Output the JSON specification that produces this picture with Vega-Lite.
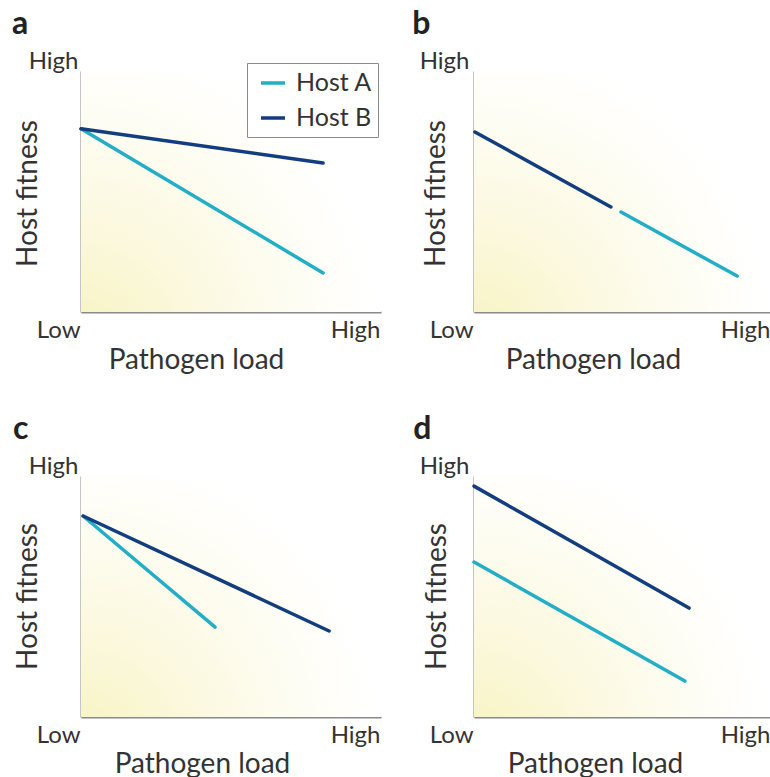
{
  "$schema": "https://vega.github.io/schema/vega-lite/v6.json",
  "padding": {"left": 11, "top": 8, "right": 0, "bottom": 0},
  "background": "white",
  "datasets": {
    "bg": [{"x0": 0, "x1": 1, "y0": 0, "y1": 1}],
    "lines": [
      {"panel": "a", "host": "Host A", "load": 0, "fitness": 0.76},
      {"panel": "a", "host": "Host A", "load": 0.807, "fitness": 0.162},
      {"panel": "a", "host": "Host B", "load": 0, "fitness": 0.76},
      {"panel": "a", "host": "Host B", "load": 0.807, "fitness": 0.618},
      {"panel": "b", "host": "Host B", "load": 0.003, "fitness": 0.747},
      {"panel": "b", "host": "Host B", "load": 0.461, "fitness": 0.436},
      {"panel": "b", "host": "Host A", "load": 0.495, "fitness": 0.415},
      {"panel": "b", "host": "Host A", "load": 0.886, "fitness": 0.149},
      {"panel": "c", "host": "Host A", "load": 0.007, "fitness": 0.834},
      {"panel": "c", "host": "Host A", "load": 0.447, "fitness": 0.373},
      {"panel": "c", "host": "Host B", "load": 0.007, "fitness": 0.834},
      {"panel": "c", "host": "Host B", "load": 0.827, "fitness": 0.357},
      {"panel": "d", "host": "Host B", "load": 0, "fitness": 0.958},
      {"panel": "d", "host": "Host B", "load": 0.724, "fitness": 0.452},
      {"panel": "d", "host": "Host A", "load": 0, "fitness": 0.643},
      {"panel": "d", "host": "Host A", "load": 0.71, "fitness": 0.149}
    ]
  },
  "config": {
    "font": "Lato",
    "view": {"stroke": null},
    "axis": {
      "grid": false,
      "ticks": false,
      "tickSize": 0,
      "domainColor": "#8a8a8a",
      "domainWidth": 2,
      "labelFont": "Lato",
      "labelFontSize": 24,
      "labelColor": "#333333",
      "labelFlush": false,
      "labelOverlap": false,
      "labelBound": false,
      "titleFont": "Lato",
      "titleFontSize": 28,
      "titleFontWeight": "normal",
      "titleColor": "#333333"
    },
    "title": {"font": "Lato", "fontSize": 32, "fontWeight": "bold", "color": "#222222", "anchor": "start", "offset": 8}
  },
  "resolve": {"scale": {"color": "independent"}, "legend": {"color": "independent"}},
  "columns": 2,
  "bounds": "flush",
  "spacing": {"column": 93, "row": 164},
  "concat": [
    {
      "title": {"text": "a", "dx": -2},
      "width": 300,
      "height": 241,
      "layer": [
        {
          "data": {"name": "bg"},
          "mark": {"type": "rect", "color": {"gradient": "radial", "x1": 0, "y1": 1, "r1": 0, "x2": 0, "y2": 1, "r2": 1.0, "stops": [{"offset": 0, "color": "#f7f3c0"}, {"offset": 0.35, "color": "#fbf8dc"}, {"offset": 0.75, "color": "#fefdf4"}, {"offset": 1, "color": "#ffffff"}]}},
          "encoding": {
            "x": {"field": "x0", "type": "quantitative", "scale": {"domain": [0, 1]}, "axis": {"values": [0, 1], "labelExpr": "datum.value == 0 ? 'Low' : 'High'", "labelAlign": "right", "labelBaseline": "alphabetic", "labelPadding": 25, "labelOffset": -1, "title": "Pathogen load", "titleX": 115, "titleY": 56, "titleBaseline": "alphabetic", "titleAlign": "center"}},
            "x2": {"field": "x1"},
            "y": {"field": "y0", "type": "quantitative", "scale": {"domain": [0, 1]}, "axis": {"values": [1], "labelExpr": "'High'", "labelAlign": "right", "labelBaseline": "alphabetic", "labelPadding": 3, "labelOffset": -3, "title": "Host fitness", "titleX": -45, "titleY": 122, "titleBaseline": "alphabetic", "titleAlign": "center", "titleAngle": -90}},
            "y2": {"field": "y1"}
          }
        },
        {
          "data": {"name": "lines"},
          "transform": [{"filter": "datum.panel == 'a'"}],
          "mark": {"type": "line", "strokeWidth": 3.5, "strokeCap": "round"},
          "encoding": {
            "x": {"field": "load", "type": "quantitative"},
            "y": {"field": "fitness", "type": "quantitative"},
            "detail": {"field": "host"},
            "color": {"field": "host", "type": "nominal", "scale": {"domain": ["Host A", "Host B"], "range": ["#22aec6", "#123e7f"]},
              "legend": {"title": null, "orient": "none", "legendX": 166, "legendY": -8, "symbolType": "stroke", "symbolSize": 576, "symbolStrokeWidth": 3.5, "symbolOffset": 6, "labelFontSize": 25, "labelFont": "Lato", "labelColor": "#333333", "labelOffset": 9, "rowPadding": 8, "padding": 6, "strokeColor": "#8a8a8a", "fillColor": "#ffffff"}}
          }
        }
      ]
    },
    {
      "title": {"text": "b", "dx": -7},
      "width": 297,
      "height": 241,
      "layer": [
        {
          "data": {"name": "bg"},
          "mark": {"type": "rect", "color": {"gradient": "radial", "x1": 0, "y1": 1, "r1": 0, "x2": 0, "y2": 1, "r2": 1.0, "stops": [{"offset": 0, "color": "#f7f3c0"}, {"offset": 0.35, "color": "#fbf8dc"}, {"offset": 0.75, "color": "#fefdf4"}, {"offset": 1, "color": "#ffffff"}]}},
          "encoding": {
            "x": {"field": "x0", "type": "quantitative", "scale": {"domain": [0, 1]}, "axis": {"values": [0, 1], "labelExpr": "datum.value == 0 ? 'Low' : 'High'", "labelAlign": "right", "labelBaseline": "alphabetic", "labelPadding": 25, "labelOffset": -1, "title": "Pathogen load", "titleX": 119, "titleY": 56, "titleBaseline": "alphabetic", "titleAlign": "center"}},
            "x2": {"field": "x1"},
            "y": {"field": "y0", "type": "quantitative", "scale": {"domain": [0, 1]}, "axis": {"values": [1], "labelExpr": "'High'", "labelAlign": "right", "labelBaseline": "alphabetic", "labelPadding": 5, "labelOffset": -3, "title": "Host fitness", "titleX": -30, "titleY": 122, "titleBaseline": "alphabetic", "titleAlign": "center", "titleAngle": -90}},
            "y2": {"field": "y1"}
          }
        },
        {
          "data": {"name": "lines"},
          "transform": [{"filter": "datum.panel == 'b'"}],
          "mark": {"type": "line", "strokeWidth": 3.5, "strokeCap": "round"},
          "encoding": {
            "x": {"field": "load", "type": "quantitative"},
            "y": {"field": "fitness", "type": "quantitative"},
            "detail": {"field": "host"},
            "color": {"field": "host", "type": "nominal", "scale": {"domain": ["Host A", "Host B"], "range": ["#22aec6", "#123e7f"]}, "legend": null}
          }
        }
      ]
    },
    {
      "title": {"text": "c", "dx": -1},
      "width": 300,
      "height": 241,
      "layer": [
        {
          "data": {"name": "bg"},
          "mark": {"type": "rect", "color": {"gradient": "radial", "x1": 0, "y1": 1, "r1": 0, "x2": 0, "y2": 1, "r2": 1.0, "stops": [{"offset": 0, "color": "#f7f3c0"}, {"offset": 0.35, "color": "#fbf8dc"}, {"offset": 0.75, "color": "#fefdf4"}, {"offset": 1, "color": "#ffffff"}]}},
          "encoding": {
            "x": {"field": "x0", "type": "quantitative", "scale": {"domain": [0, 1]}, "axis": {"values": [0, 1], "labelExpr": "datum.value == 0 ? 'Low' : 'High'", "labelAlign": "right", "labelBaseline": "alphabetic", "labelPadding": 25, "labelOffset": -1, "title": "Pathogen load", "titleX": 121, "titleY": 55, "titleBaseline": "alphabetic", "titleAlign": "center"}},
            "x2": {"field": "x1"},
            "y": {"field": "y0", "type": "quantitative", "scale": {"domain": [0, 1]}, "axis": {"values": [1], "labelExpr": "'High'", "labelAlign": "right", "labelBaseline": "alphabetic", "labelPadding": 3, "labelOffset": -3, "title": "Host fitness", "titleX": -45, "titleY": 120, "titleBaseline": "alphabetic", "titleAlign": "center", "titleAngle": -90}},
            "y2": {"field": "y1"}
          }
        },
        {
          "data": {"name": "lines"},
          "transform": [{"filter": "datum.panel == 'c'"}],
          "mark": {"type": "line", "strokeWidth": 3.5, "strokeCap": "round"},
          "encoding": {
            "x": {"field": "load", "type": "quantitative"},
            "y": {"field": "fitness", "type": "quantitative"},
            "detail": {"field": "host"},
            "color": {"field": "host", "type": "nominal", "scale": {"domain": ["Host A", "Host B"], "range": ["#22aec6", "#123e7f"]}, "legend": null}
          }
        }
      ]
    },
    {
      "title": {"text": "d", "dx": -6},
      "width": 297,
      "height": 241,
      "layer": [
        {
          "data": {"name": "bg"},
          "mark": {"type": "rect", "color": {"gradient": "radial", "x1": 0, "y1": 1, "r1": 0, "x2": 0, "y2": 1, "r2": 1.0, "stops": [{"offset": 0, "color": "#f7f3c0"}, {"offset": 0.35, "color": "#fbf8dc"}, {"offset": 0.75, "color": "#fefdf4"}, {"offset": 1, "color": "#ffffff"}]}},
          "encoding": {
            "x": {"field": "x0", "type": "quantitative", "scale": {"domain": [0, 1]}, "axis": {"values": [0, 1], "labelExpr": "datum.value == 0 ? 'Low' : 'High'", "labelAlign": "right", "labelBaseline": "alphabetic", "labelPadding": 25, "labelOffset": -1, "title": "Pathogen load", "titleX": 121, "titleY": 55, "titleBaseline": "alphabetic", "titleAlign": "center"}},
            "x2": {"field": "x1"},
            "y": {"field": "y0", "type": "quantitative", "scale": {"domain": [0, 1]}, "axis": {"values": [1], "labelExpr": "'High'", "labelAlign": "right", "labelBaseline": "alphabetic", "labelPadding": 5, "labelOffset": -3, "title": "Host fitness", "titleX": -29, "titleY": 120, "titleBaseline": "alphabetic", "titleAlign": "center", "titleAngle": -90}},
            "y2": {"field": "y1"}
          }
        },
        {
          "data": {"name": "lines"},
          "transform": [{"filter": "datum.panel == 'd'"}],
          "mark": {"type": "line", "strokeWidth": 3.5, "strokeCap": "round"},
          "encoding": {
            "x": {"field": "load", "type": "quantitative"},
            "y": {"field": "fitness", "type": "quantitative"},
            "detail": {"field": "host"},
            "color": {"field": "host", "type": "nominal", "scale": {"domain": ["Host A", "Host B"], "range": ["#22aec6", "#123e7f"]}, "legend": null}
          }
        }
      ]
    }
  ]
}
